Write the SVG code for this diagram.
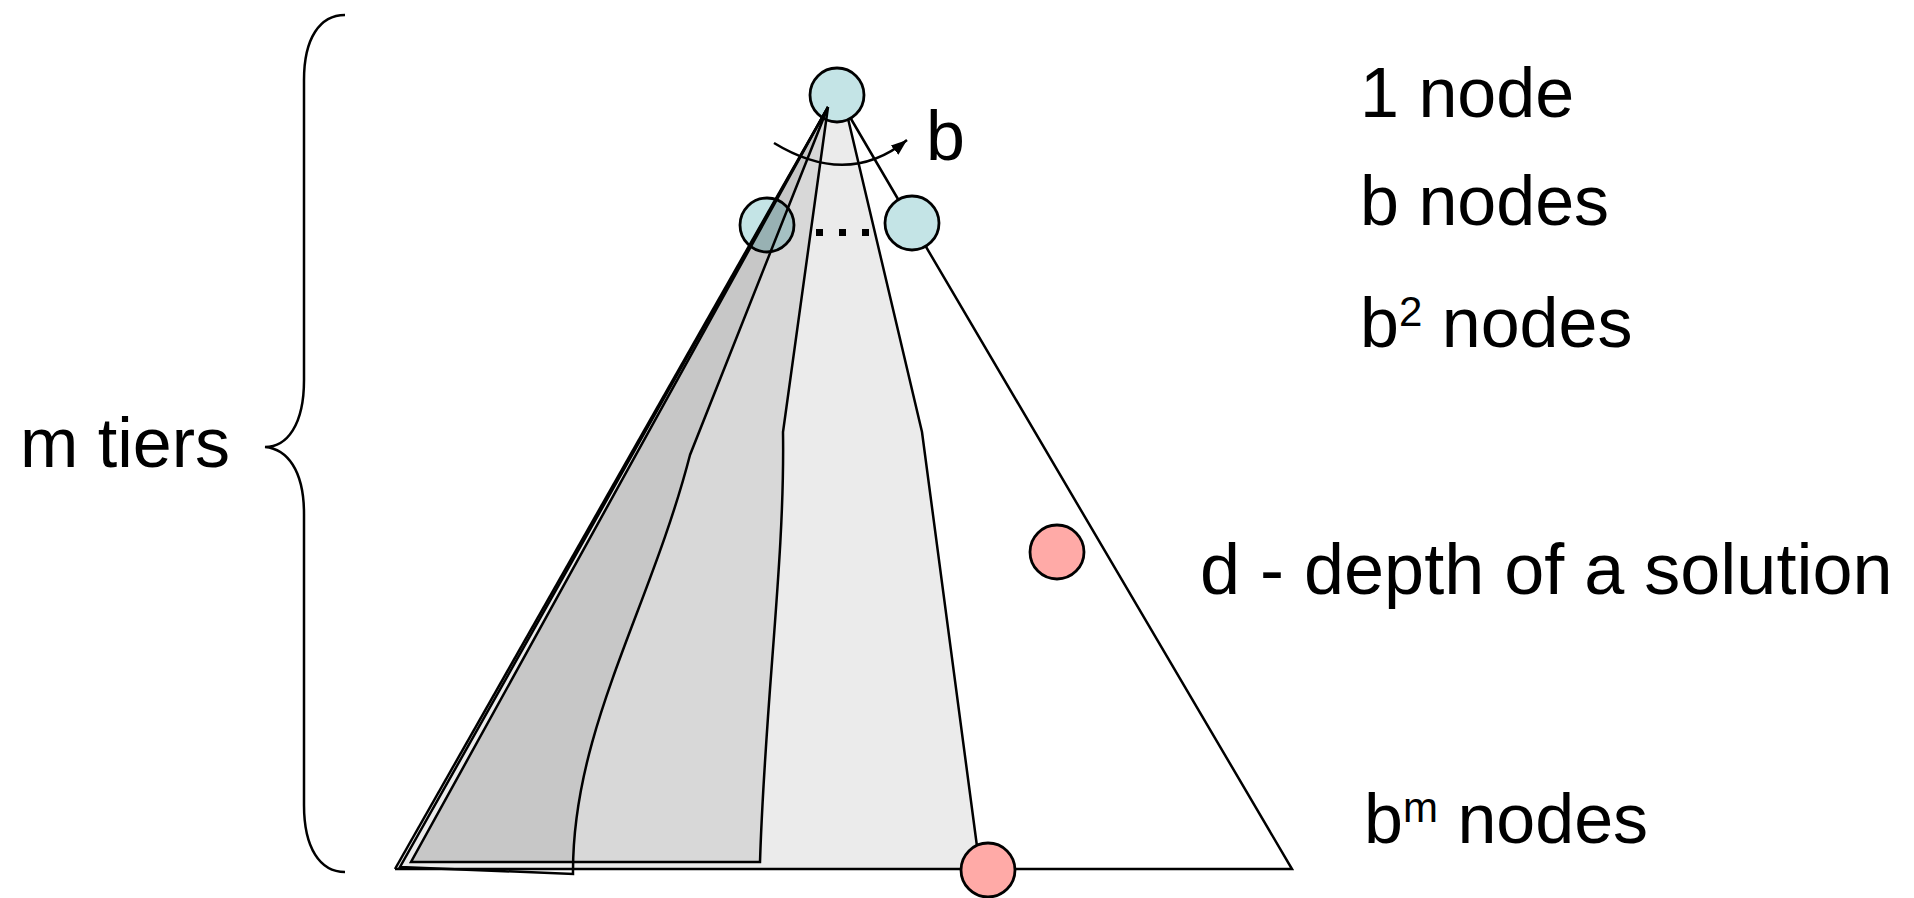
<svg xmlns="http://www.w3.org/2000/svg" width="1914" height="898" viewBox="0 0 1914 898">
  <style>
    .ln { fill: none; stroke: #000; stroke-width: 2.5; stroke-linejoin: miter; }
    .shade { fill: #000; fill-opacity: 0.08; stroke: none; }
    .teal { fill: #c4e4e6; stroke: #000; stroke-width: 2.8; }
    .pink { fill: #ffaaa7; stroke: #000; stroke-width: 2.8; }
    .lbl { font-family: "Liberation Sans", Arial, Helvetica, sans-serif; font-size: 70px; fill: #000; }
    .sup { font-size: 42px; }
  </style>
  <defs>
    <marker id="arrowhead" markerUnits="userSpaceOnUse" markerWidth="18" markerHeight="14" refX="16" refY="6" orient="auto">
      <path d="M0,0 L16,6 L0,12 z" fill="#000"/>
    </marker>
  </defs>
  <rect width="1914" height="898" fill="#fff"/>

  <!-- brace -->
  <path class="ln" d="M345,15 C320,15 304,38 304,80 L304,380 C304,425 287,447 265,447 C287,449 304,470 304,514 L304,805 C304,848 320,872 345,872"/>

  <!-- left child (under shading) -->
  <g id="node-left-child">
    <circle class="teal" cx="767" cy="225" r="27"/>
  </g>

  <!-- shaded explored regions -->
  <g id="shading">
    <path class="shade" d="M828,107 L395,869 L980,869 L922,432 L846,110 Z"/>
    <path class="shade" d="M828,107 L411,862 L760,862 C765,700 785,560 783,432 Z"/>
    <path class="shade" d="M828,107 L411,862 L573,862 C572,730 650,610 690,455 Z"/>
  </g>

  <!-- connectors under top node -->
  <g id="connectors">
    <path class="ln" d="M846,110 L922,432 L980,869"/>
    <path class="ln" d="M837,95 L912,223 L1292,869 L395,869"/>
  </g>

  <g id="node-root">
    <circle class="teal" cx="837" cy="95" r="27"/>
  </g>

  <g id="connectors-over">
    <path class="ln" d="M828,107 L395,869"/>
    <path class="ln" d="M828,107 L400,867 L573,874 C572,730 650,610 690,455 Z"/>
    <path class="ln" d="M828,107 L411,862 L760,862 C765,700 785,560 783,432 Z"/>
    <path d="M774,143 Q848,188 907,140" fill="none" stroke="#000" stroke-width="2.5" marker-end="url(#arrowhead)"/>
  </g>

  <g id="node-right-child">
    <circle class="teal" cx="912" cy="223" r="27"/>
  </g>

  <g id="ellipsis" fill="#000">
    <rect x="816" y="229" width="7" height="7"/>
    <rect x="839" y="229" width="7" height="7"/>
    <rect x="862" y="229" width="7" height="7"/>
  </g>

  <g id="node-solution">
    <circle class="pink" cx="1057" cy="552" r="27"/>
  </g>
  <g id="node-bottom">
    <circle class="pink" cx="988" cy="870" r="27"/>
  </g>

  <!-- labels -->
  <text class="lbl" x="926" y="160">b</text>
  <text class="lbl" x="20" y="467">m tiers</text>
  <text class="lbl" x="1360" y="117">1 node</text>
  <text class="lbl" x="1360" y="225">b nodes</text>
  <text class="lbl" x="1360" y="347">b<tspan class="sup" dy="-21">2</tspan><tspan dy="21"> nodes</tspan></text>
  <text class="lbl" x="1200" y="594" style="font-size:72px">d - depth of a solution</text>
  <text class="lbl" x="1364" y="843">b<tspan class="sup" dy="-21">m</tspan><tspan dy="21"> nodes</tspan></text>
</svg>
